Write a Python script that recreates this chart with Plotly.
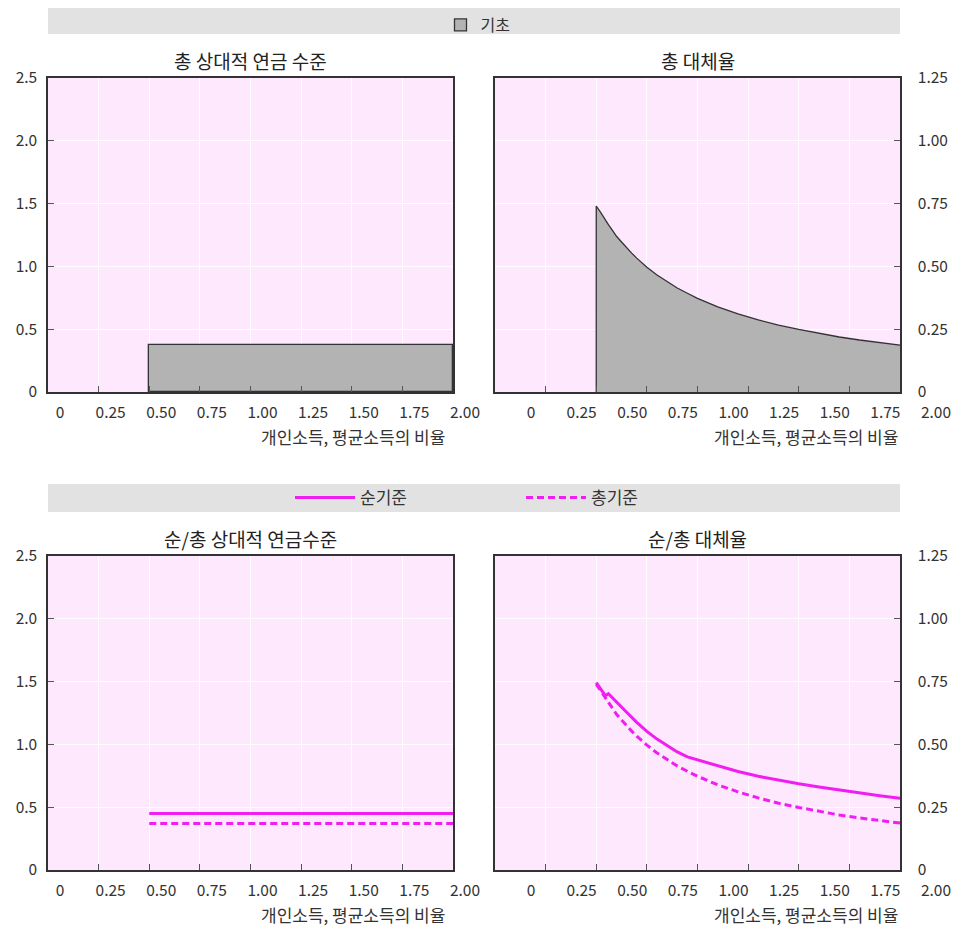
import plotly.graph_objects as go

# ---------------- data ----------------
x_tick_vals = [0, 0.25, 0.5, 0.75, 1.0, 1.25, 1.5, 1.75, 2.0]
x_tick_text = ["0", "0.25", "0.50", "0.75", "1.00", "1.25", "1.50", "1.75", "2.00"]
level_tick_vals = [0, 0.5, 1.0, 1.5, 2.0, 2.5]
level_tick_text = ["0", "0.5", "1.0", "1.5", "2.0", "2.5"]
rate_tick_vals = [0, 0.25, 0.5, 0.75, 1.0, 1.25]
rate_tick_text = ["0", "0.25", "0.50", "0.75", "1.00", "1.25"]

basic_start = 0.5          # earnings level where basic pension begins
basic_end = 2.0
basic_level = 0.373        # gross relative pension level (basic)
net_level = 0.45           # net relative pension level
gross_level = 0.37         # gross relative pension level

earn = [0.5, 0.52, 0.54, 0.56, 0.58, 0.6, 0.625, 0.65, 0.675, 0.7, 0.75, 0.8,
        0.85, 0.9, 0.95, 1.0, 1.1, 1.2, 1.3, 1.4, 1.5, 1.6, 1.7, 1.8, 1.9, 2.0]
gross_rr = [0.74, 0.717, 0.69, 0.666, 0.643, 0.62, 0.597, 0.574, 0.553, 0.533,
            0.497, 0.466, 0.439, 0.414, 0.393, 0.373, 0.339, 0.311, 0.287,
            0.266, 0.249, 0.233, 0.219, 0.207, 0.196, 0.187]

net_earn = [0.5, 0.545, 0.56, 0.6, 0.65, 0.7, 0.75, 0.8, 0.85, 0.9, 0.95, 1.0,
            1.1, 1.2, 1.3, 1.4, 1.5, 1.6, 1.7, 1.8, 1.9, 2.0]
net_rr = [0.746, 0.694, 0.702, 0.668, 0.628, 0.588, 0.552, 0.521, 0.494, 0.47, 0.45,
          0.438, 0.413, 0.392, 0.373, 0.357, 0.343, 0.33, 0.318, 0.306, 0.296, 0.286]

titles = ["총 상대적 연금 수준", "총 대체율", "순/총 상대적 연금수준", "순/총 대체율"]
x_title = "개인소득, 평균소득의 비율"

# ---------------- style ----------------
OFF = 8                      # page body margin
W, H = 974 - OFF, 931 - OFF
FONT = "Noto Sans CJK KR"
PINK = "#FDE8FD"
GRAY_FILL = "#B3B3B3"
MAGENTA = "#F01EF0"
TXT = "#333333"
DASH = "7px,4px"

def px_x(p):
    return (p - OFF) / W

def px_y(p):
    return 1 - (p - OFF) / H

left_dom = [px_x(48), px_x(453)]
right_dom = [px_x(495), px_x(900)]
top_dom = [px_y(392), px_y(78)]
bot_dom = [px_y(870), px_y(556)]

fig = go.Figure()

# top-left: basic pension level (block)
fig.add_trace(go.Bar(
    x=[(basic_start + basic_end) / 2], y=[basic_level],
    width=[basic_end - basic_start],
    marker=dict(color=GRAY_FILL, line=dict(color="#333333", width=1.3)),
    name="기초", legend="legend", showlegend=True,
    xaxis="x", yaxis="y"))

# top-right: gross replacement rate (filled)
fig.add_trace(go.Scatter(
    x=[earn[0]] + earn, y=[0] + gross_rr,
    mode="lines", fill="tozeroy", fillcolor=GRAY_FILL,
    line=dict(color="#333333", width=1.3), showlegend=False,
    xaxis="x2", yaxis="y2"))

# bottom-left: net / gross levels
fig.add_trace(go.Scatter(
    x=[basic_start, basic_end], y=[net_level, net_level], mode="lines",
    line=dict(color=MAGENTA, width=3), showlegend=False,
    xaxis="x3", yaxis="y3"))
fig.add_trace(go.Scatter(
    x=[basic_start, basic_end], y=[gross_level, gross_level], mode="lines",
    line=dict(color=MAGENTA, width=3, dash=DASH), showlegend=False,
    xaxis="x3", yaxis="y3"))

# bottom-right: net / gross replacement rates
fig.add_trace(go.Scatter(
    x=net_earn, y=net_rr, mode="lines",
    line=dict(color=MAGENTA, width=3), name="순기준", legend="legend2",
    xaxis="x4", yaxis="y4"))
fig.add_trace(go.Scatter(
    x=earn, y=gross_rr, mode="lines",
    line=dict(color=MAGENTA, width=3, dash=DASH), name="총기준", legend="legend2",
    xaxis="x4", yaxis="y4"))

common_x = dict(range=[0, 2.0], tickvals=x_tick_vals, ticktext=x_tick_text,
                ticks="inside", ticklen=6, tickcolor="#555555", tickwidth=1,
                showline=True, linecolor="#333333", linewidth=1.5, mirror=True,
                showgrid=True, gridcolor="rgba(255,255,255,0.8)", gridwidth=1,
                zeroline=False, automargin=False, ticklabelstandoff=6,
                tickfont=dict(size=15.5, color=TXT, family=FONT))
common_y = dict(ticks="inside", ticklen=6, tickcolor="#555555", tickwidth=1,
                showline=True, linecolor="#333333", linewidth=1.5, mirror=True,
                showgrid=True, gridcolor="rgba(255,255,255,0.8)", gridwidth=1,
                zeroline=False, automargin=False,
                tickfont=dict(size=15.5, color=TXT, family=FONT))

fig.update_layout(
    template="none",
    width=W, height=H,
    margin=dict(l=0, r=0, t=0, b=0, autoexpand=False),
    paper_bgcolor="white", plot_bgcolor=PINK,
    font=dict(family=FONT, color=TXT),
    bargap=0,
    xaxis=dict(domain=left_dom, anchor="y", ticklabelshift=12, **common_x),
    yaxis=dict(domain=top_dom, anchor="x", range=[0, 2.5], tickvals=level_tick_vals,
               ticktext=level_tick_text, side="left", ticklabelstandoff=6, **common_y),
    xaxis2=dict(domain=right_dom, anchor="y2", ticklabelshift=36, **common_x),
    yaxis2=dict(domain=top_dom, anchor="x2", range=[0, 1.25], tickvals=rate_tick_vals,
                ticktext=rate_tick_text, side="right", ticklabelstandoff=13, **common_y),
    xaxis3=dict(domain=left_dom, anchor="y3", ticklabelshift=12, **common_x),
    yaxis3=dict(domain=bot_dom, anchor="x3", range=[0, 2.5], tickvals=level_tick_vals,
                ticktext=level_tick_text, side="left", ticklabelstandoff=6, **common_y),
    xaxis4=dict(domain=right_dom, anchor="y4", ticklabelshift=36, **common_x),
    yaxis4=dict(domain=bot_dom, anchor="x4", range=[0, 1.25], tickvals=rate_tick_vals,
                ticktext=rate_tick_text, side="right", ticklabelstandoff=13, **common_y),
    legend=dict(orientation="h", x=px_x(478), xanchor="center", y=1.0,
                yanchor="top", bgcolor="rgba(0,0,0,0)",
                font=dict(size=16, color=TXT, family=FONT)),
    legend2=dict(orientation="h", x=px_x(290), xanchor="left", y=px_y(498),
                 yanchor="middle", bgcolor="rgba(0,0,0,0)", entrywidth=156,
                 itemwidth=60,
                 font=dict(size=17, color=TXT, family=FONT)),
)

# legend bands
for y0, y1 in [(34, 7), (512, 484)]:
    fig.add_shape(type="rect", xref="paper", yref="paper",
                  x0=px_x(48), x1=px_x(900), y0=px_y(y0), y1=min(1.0, px_y(y1)),
                  fillcolor="#E2E2E2", line=dict(width=0), layer="below")

# subplot titles and x-axis titles
axes = [("x", "y"), ("x2", "y2"), ("x3", "y3"), ("x4", "y4")]
xt_pos = [0.985, 1.0, 0.985, 1.0]
for (xa, ya), t, xp in zip(axes, titles, xt_pos):
    fig.add_annotation(text=t, xref=f"{xa} domain", yref=f"{ya} domain",
                       x=0.5, y=1.057, xanchor="center", yanchor="middle",
                       showarrow=False, font=dict(size=19, color="#222222", family=FONT))
    fig.add_annotation(text=x_title, xref=f"{xa} domain", yref=f"{ya} domain",
                       x=xp, y=-0.143, xanchor="right", yanchor="middle",
                       showarrow=False, font=dict(size=17, color=TXT, family=FONT))

fig.write_html("out.html")
